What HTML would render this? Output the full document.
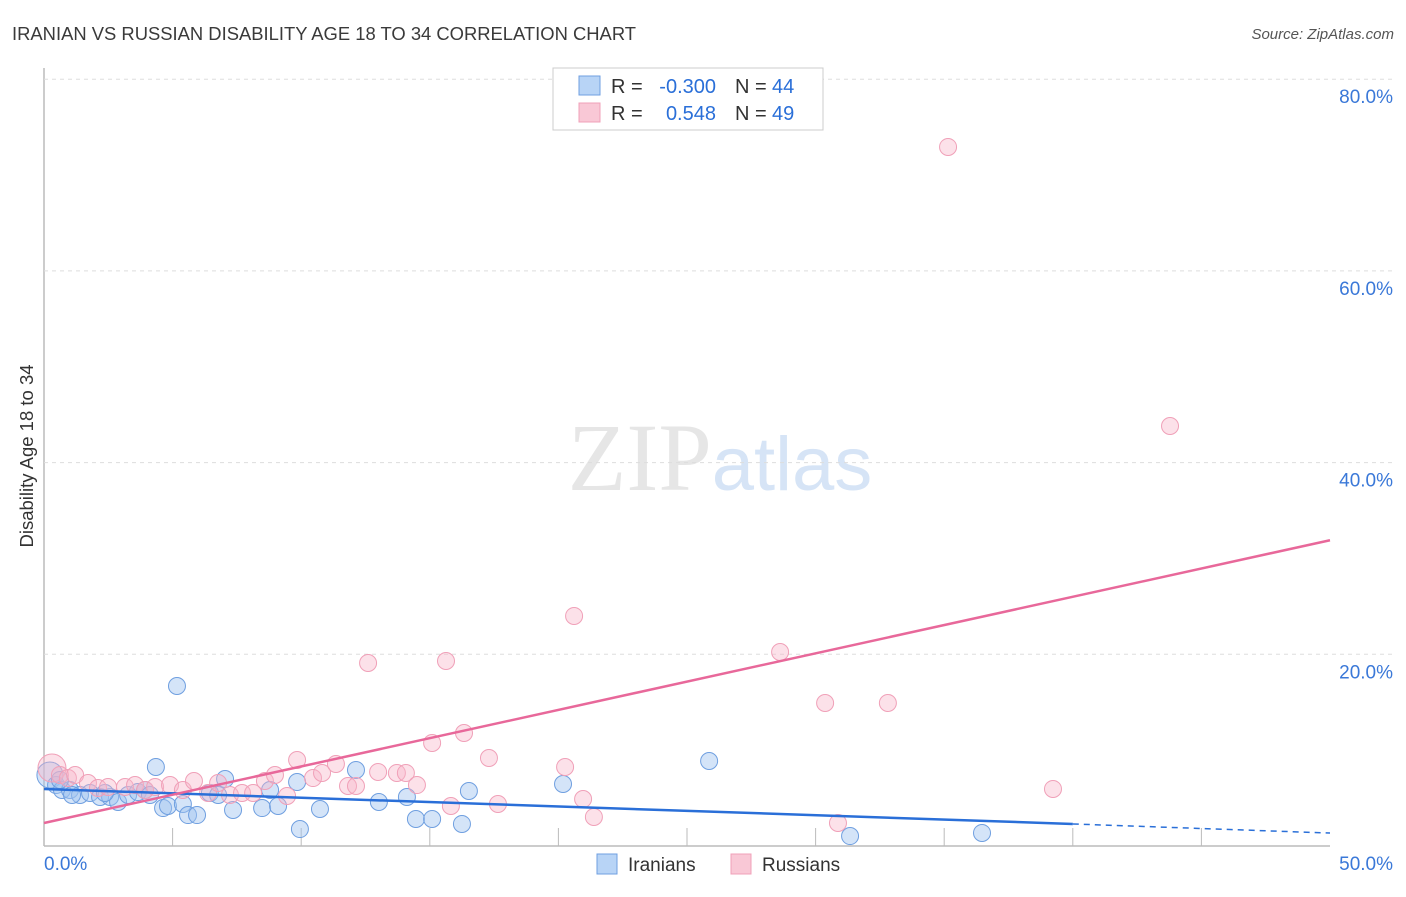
<!DOCTYPE html>
<html><head><meta charset="utf-8"><style>
body{margin:0;background:#fff;font-family:"Liberation Sans",sans-serif;}
</style></head><body>
<svg id="chart" width="1406" height="892" xmlns="http://www.w3.org/2000/svg" font-family="Liberation Sans, sans-serif">
<text x="12" y="40" font-size="18.4" fill="#3a3a3a" textLength="624">IRANIAN VS RUSSIAN DISABILITY AGE 18 TO 34 CORRELATION CHART</text>
<text x="1394" y="39" font-size="15" fill="#555" text-anchor="end" font-style="italic">Source: ZipAtlas.com</text>
<text x="720" y="490" font-size="96" text-anchor="middle" fill="#e6e6e6" font-family="Liberation Serif, serif">ZIP<tspan fill="#d6e4f6" font-family="Liberation Sans, sans-serif" font-size="76">atlas</tspan></text>
<text transform="translate(33,456) rotate(-90)" font-size="18.5" fill="#333" text-anchor="middle">Disability Age 18 to 34</text>
<g id="grid"></g><g id="pts"></g><g id="lines"></g>
<g>
<rect x="553" y="68" width="270" height="62" fill="#fff" stroke="#ccc"/>
<rect x="579" y="76" width="21" height="19" fill="#b8d4f6" stroke="#6f9fe0"/>
<rect x="579" y="103" width="21" height="19" fill="#f9c8d6" stroke="#f0a0b8"/>
<text x="611" y="93" font-size="20" fill="#333">R =</text>
<text x="716" y="93" font-size="20" fill="#2a6fd8" text-anchor="end">-0.300</text>
<text x="735" y="93" font-size="20" fill="#333">N =</text>
<text x="772" y="93" font-size="20" fill="#2a6fd8">44</text>
<text x="611" y="120" font-size="20" fill="#333">R =</text>
<text x="716" y="120" font-size="20" fill="#2a6fd8" text-anchor="end">0.548</text>
<text x="735" y="120" font-size="20" fill="#333">N =</text>
<text x="772" y="120" font-size="20" fill="#2a6fd8">49</text>
</g>
<g>
<rect x="597" y="854" width="20" height="20" fill="#b8d4f6" stroke="#6f9fe0"/>
<text x="628" y="871" font-size="19" fill="#333">Iranians</text>
<rect x="731" y="854" width="20" height="20" fill="#f9c8d6" stroke="#f0a0b8"/>
<text x="762" y="871" font-size="19" fill="#333">Russians</text>
</g>
</svg>
<script>
const yTicks=[20,40,60,80];
const xTicks=[5,10,15,20,25,30,35,40,45];
const blueX=[0.23,0.47,0.70,1.01,1.40,1.79,2.18,2.57,2.88,3.27,3.65,3.93,4.12,4.35,4.63,4.82,5.17,5.40,5.60,5.95,6.45,6.77,7.04,7.35,8.48,8.79,9.10,9.84,9.95,10.73,12.13,13.02,14.11,14.46,15.09,16.25,16.52,20.18,25.86,31.34,36.47,0.62,1.09,2.37];
const blueY=[7.41,6.36,5.84,5.84,5.32,5.53,5.11,5.11,4.59,5.32,5.63,5.84,5.32,8.24,3.96,4.17,16.69,4.38,3.23,3.23,5.53,5.32,6.99,3.76,3.96,5.84,4.17,6.68,1.77,3.86,7.93,4.59,5.11,2.82,2.82,2.30,5.74,6.47,8.87,1.04,1.36,6.89,5.32,5.53];
const pinkX=[0.31,0.62,0.93,1.21,1.71,2.10,2.49,3.15,3.54,3.93,4.32,4.90,5.40,5.83,6.38,6.77,7.23,7.70,8.13,8.59,8.98,9.45,9.84,10.46,10.81,11.35,11.82,12.13,12.60,12.99,13.72,14.07,14.50,15.09,15.63,15.82,16.33,17.30,17.65,20.26,20.61,20.96,21.38,28.62,30.37,30.87,32.81,35.15,39.23,43.78];
const pinkY=[8.14,7.41,7.09,7.41,6.57,6.05,6.16,6.16,6.36,5.84,6.16,6.36,5.84,6.78,5.53,6.57,5.32,5.53,5.53,6.78,7.41,5.22,8.97,7.09,7.62,8.56,6.26,6.26,19.09,7.72,7.62,7.62,6.36,10.75,19.30,4.17,11.79,9.18,4.38,8.24,24.00,4.90,3.03,20.24,14.92,2.40,14.92,72.93,5.95,43.82];
const blueTrend=[5.95,2.3];
const blueTrendEnd=1.35;
const pinkTrend=[2.4,31.9];
const X=v=>44+v*1286/50, Y=v=>846-v*9.585;
const NS='http://www.w3.org/2000/svg';
function mk(t,a,p){const e=document.createElementNS(NS,t);for(const k in a)e.setAttribute(k,a[k]);p.appendChild(e);return e;}
const g=document.getElementById('grid');
const ax=mk('line',{x1:44,y1:68,x2:44,y2:846,stroke:'#bbb','stroke-width':1.5},g);


const bx=mk('line',{x1:44,y1:846,x2:1330,y2:846,stroke:'#bbb','stroke-width':1.5},g);


yTicks.forEach(t=>{const l=mk('line',{x1:44,y1:Y(t),x2:1395,y2:Y(t),stroke:'#ddd','stroke-dasharray':'4,4'},g);


const tx=mk('text',{x:1393,y:Y(t)+24,'font-size':19,fill:'#3a78d8','text-anchor':'end'},g);tx.textContent=t.toFixed(1)+'%';

});
xTicks.forEach(t=>{const l=mk('line',{x1:X(t),y1:828,x2:X(t),y2:846,stroke:'#bbb'},g);

});
[[0,'0.0%',44,'start'],[50,'50.0%',1393,'end']].forEach(a=>{const tx=mk('text',{x:a[2],y:870,'font-size':19,fill:'#3a78d8','text-anchor':a[3]},g);tx.textContent=a[1];

});
const p=document.getElementById('pts');
blueX.forEach((x,i)=>{const c=mk('circle',{cx:X(x),cy:Y(blueY[i]),r:i===0?13:8.5,fill:'rgba(160,196,240,0.45)',stroke:'#6f9fe0','stroke-width':1},p);

});
pinkX.forEach((x,i)=>{const c=mk('circle',{cx:X(x),cy:Y(pinkY[i]),r:i===0?14:8.5,fill:'rgba(248,180,200,0.4)',stroke:'#f0a0b8','stroke-width':1},p);

});
const L=document.getElementById('lines');
const b1=mk('line',{x1:X(0),y1:Y(blueTrend[0]),x2:X(40),y2:Y(blueTrend[1]),stroke:'#2a6fd8','stroke-width':2.5},L);


const b2=mk('line',{x1:X(40),y1:Y(blueTrend[1]),x2:X(50),y2:Y(blueTrendEnd),stroke:'#2a6fd8','stroke-width':1.5,'stroke-dasharray':'6,5'},L);


const pl=mk('line',{x1:X(0),y1:Y(pinkTrend[0]),x2:X(50),y2:Y(pinkTrend[1]),stroke:'#e8689a','stroke-width':2.5},L);


</script>
</body></html>
